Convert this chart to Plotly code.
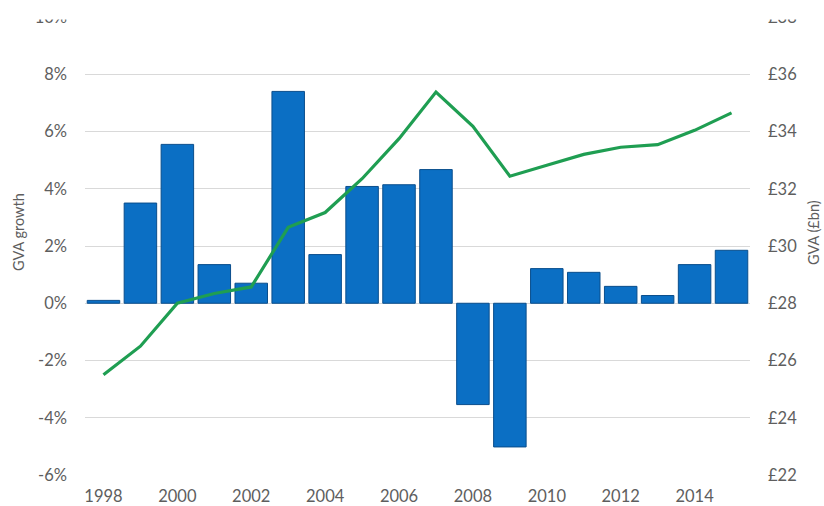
import plotly.graph_objects as go

# Annual data, 1998-2015
years = list(range(1998, 2016))
gva_growth_pct = [0.1, 3.5, 5.55, 1.35, 0.7, 7.4, 1.7, 4.08, 4.14, 4.67,
                  -3.54, -5.02, 1.21, 1.08, 0.59, 0.27, 1.35, 1.85]
gva_bn = [25.5, 26.5, 28.0, 28.34, 28.57, 30.65, 31.17, 32.35, 33.75, 35.38,
          34.18, 32.44, 32.82, 33.2, 33.45, 33.54, 34.04, 34.65]

growth_ticks = [-6, -4, -2, 0, 2, 4, 6, 8, 10]
growth_labels = [f"{v}%" for v in growth_ticks]
gva_ticks = [22, 24, 26, 28, 30, 32, 34, 36, 38]
gva_labels = [f"£{v}" for v in gva_ticks]
year_ticks = list(range(1998, 2015, 2))

W, H = 824, 506
L, R, T, B = 85, 74, 17, 31
plot_w = W - L - R
plot_h = H - T - B

FONT = "Lato"
GREY = "#5E5E5E"
TICK_SIZE = 16.5

fig = go.Figure()

fig.add_trace(go.Bar(
    x=years, y=gva_growth_pct, name="GVA growth",
    width=0.88,
    marker=dict(color="#0B6FC4", line=dict(color="#0A4E8C", width=1)),
    yaxis="y",
))

fig.add_trace(go.Scatter(
    x=years, y=gva_bn, name="GVA (£bn)", mode="lines",
    line=dict(color="#1F9E52", width=3.2),
    yaxis="y2",
))

fig.update_layout(
    width=W, height=H,
    margin=dict(l=L, r=R, t=T, b=B, pad=0, autoexpand=False),
    paper_bgcolor="white", plot_bgcolor="white",
    showlegend=False,
    font=dict(family=FONT, size=14, color=GREY),
    xaxis=dict(
        range=[1997.5, 2015.5], automargin=False,
        tickmode="array", tickvals=year_ticks,
        ticktext=[str(y) for y in year_ticks],
        showgrid=False, zeroline=False, showline=False,
        ticks="", ticklabelstandoff=9,
        tickfont=dict(family=FONT, size=TICK_SIZE, color=GREY),
    ),
    yaxis=dict(
        range=[-6, 10], automargin=False,
        tickmode="array", tickvals=growth_ticks, ticktext=growth_labels,
        showgrid=True, gridcolor="#D9D9D9", gridwidth=1,
        zeroline=False, showline=False, ticks="",
        ticklabelstandoff=17,
        tickfont=dict(family=FONT, size=TICK_SIZE, color=GREY),
    ),
    yaxis2=dict(
        range=[22, 38], overlaying="y", side="right", automargin=False,
        tickmode="array", tickvals=gva_ticks, ticktext=gva_labels,
        showgrid=False, zeroline=False, showline=False, ticks="",
        ticklabelstandoff=17,
        tickfont=dict(family=FONT, size=TICK_SIZE, color=GREY),
    ),
)

# Axis titles placed by pixel position
def px_to_paper(px_x, px_y):
    return (px_x - L) / plot_w, (H - B - px_y) / plot_h

lx, ly = px_to_paper(18, 232)
rx, ry = px_to_paper(813, 233)
fig.add_annotation(text="GVA growth", x=lx, y=ly, xref="paper", yref="paper",
                   textangle=-90, showarrow=False, xanchor="center", yanchor="middle",
                   font=dict(family=FONT, size=14.5, color=GREY))
fig.add_annotation(text="GVA (£bn)", x=rx, y=ry, xref="paper", yref="paper",
                   textangle=-90, showarrow=False, xanchor="center", yanchor="middle",
                   font=dict(family=FONT, size=14.5, color=GREY))

# White band across the top edge, trimming the topmost tick labels
_, band_bottom = px_to_paper(0, 19.5)
fig.add_shape(type="rect", xref="paper", yref="paper",
              x0=-0.2, x1=1.2, y0=band_bottom, y1=1.2,
              fillcolor="white", line=dict(width=0), layer="above")

fig.write_html("out.html")
